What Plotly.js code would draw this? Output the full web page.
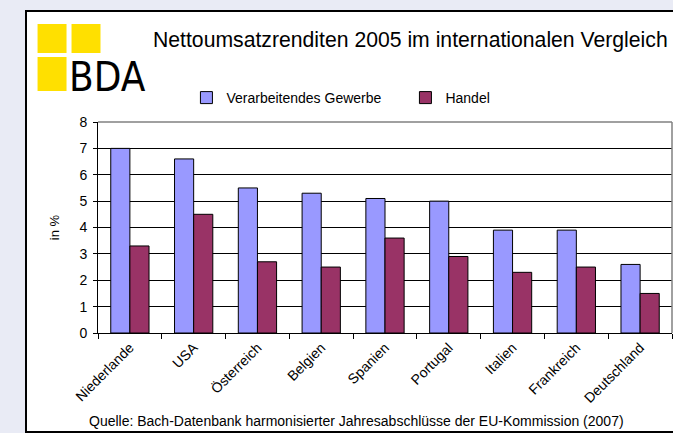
<!DOCTYPE html>
<html>
<head>
<meta charset="utf-8">
<script src="https://cdn.plot.ly/plotly-3.0.1.min.js"></script>
<style>
  html, body { margin: 0; padding: 0; background: #e9ebf5; overflow: hidden; }
  #box { position: absolute; left: 25px; top: 10px; width: 700px; height: 419px;
         border: 2px solid #000; background: #fff; }
  #chart { position: absolute; left: 0; top: 0; width: 660px; height: 419px; }
</style>
</head>
<body>
<div id="box"><div id="chart"></div></div>
<script>
// ---- data ----
const countries = ["Niederlande", "USA", "Österreich", "Belgien", "Spanien",
                   "Portugal", "Italien", "Frankreich", "Deutschland"];
const verarbeitendesGewerbe = [7.0, 6.6, 5.5, 5.3, 5.1, 5.0, 3.9, 3.9, 2.6];
const handel = [3.3, 4.5, 2.7, 2.5, 3.6, 2.9, 2.3, 2.5, 1.5];
const seriesNames = ["Verarbeitendes Gewerbe", "Handel"];
const yTicks = [0, 1, 2, 3, 4, 5, 6, 7, 8];

// ---- geometry helpers (page px -> paper coords) ----
const OFFX = 27, OFFY = 12;
const M = { l: 70.5, r: 15, t: 110, b: 98 };
const W = 660, H = 419;
const PW = W - M.l - M.r, PH = H - M.t - M.b;
const px = X => (X - OFFX - M.l) / PW;
const py = Y => (H - M.b - (Y - OFFY)) / PH;

const font = "Liberation Sans, Arial, sans-serif";

const traces = [
  { type: "bar", name: seriesNames[0], x: countries, y: verarbeitendesGewerbe,
    marker: { color: "#9999ff", line: { color: "#000", width: 1 } } },
  { type: "bar", name: seriesNames[1], x: countries, y: handel,
    marker: { color: "#993366", line: { color: "#000", width: 1 } } }
];

const yellow = "#ffe000";
const sq = (x0, y0, x1, y1) => ({ type: "rect", xref: "paper", yref: "paper",
  x0: px(x0), x1: px(x1), y0: py(y1), y1: py(y0),
  fillcolor: yellow, line: { width: 0 } });

const layout = {
  width: W, height: H,
  margin: M,
  paper_bgcolor: "#fff", plot_bgcolor: "#fff",
  font: { family: font, size: 13, color: "#000" },
  title: { text: "Nettoumsatzrenditen 2005 im internationalen Vergleich",
           font: { family: font, size: 21.2, color: "#000" },
           xref: "container", yref: "container",
           x: (153 - OFFX) / W, xanchor: "left",
           y: 1 - (40 - OFFY) / H, yanchor: "middle" },
  barmode: "group", bargap: 0.40, bargroupgap: 0,
  xaxis: { type: "category", showline: true, linecolor: "#000", linewidth: 1,
           ticks: "outside", tickson: "boundaries", ticklen: 5, tickcolor: "#000",
           tickangle: -45, tickfont: { size: 14 }, showgrid: false, fixedrange: true },
  yaxis: { range: [0, 8], tickvals: yTicks, showline: true, linecolor: "#000", linewidth: 1,
           ticks: "outside", ticklen: 4, tickcolor: "#000", ticklabelstandoff: 3,
           showgrid: true, gridcolor: "#000", gridwidth: 1, zeroline: false,
           tickfont: { size: 14 },
           title: { text: "in %", font: { size: 13 }, standoff: 16 } },
  showlegend: true,
  legend: { orientation: "h", x: px(186), xanchor: "left", y: py(98), yanchor: "middle",
            entrywidth: 174, entrywidthmode: "pixels",
            font: { family: font, size: 14 }, bgcolor: "rgba(0,0,0,0)" },
  shapes: [
    sq(37, 24, 66, 53), sq(71, 24, 100, 53), sq(37, 57, 66, 91),
    { type: "line", xref: "paper", yref: "paper", x0: 0, x1: 1, y0: 1, y1: 1,
      line: { color: "#808080", width: 1.5 }, layer: "above" },
    { type: "line", xref: "paper", yref: "paper", x0: 1, x1: 1, y0: 0, y1: 1,
      line: { color: "#808080", width: 1.5 }, layer: "above" }
  ],
  annotations: [
    { text: "BDA", xref: "paper", yref: "paper", x: px(66), y: py(93),
      xanchor: "left", yanchor: "bottom", showarrow: false, yshift: -9,
      font: { family: "Liberation Sans Narrow, Arial Narrow, DejaVu Sans Condensed, Liberation Sans", size: 40, color: "#000" } },
    { text: "Quelle: Bach-Datenbank harmonisierter Jahresabschlüsse der EU-Kommission (2007)",
      xref: "paper", yref: "paper", x: px(356), y: py(421), xanchor: "center", yanchor: "middle",
      showarrow: false, font: { family: font, size: 14, color: "#000" } }
  ]
};

Plotly.newPlot("chart", traces, layout, { displayModeBar: false, staticPlot: true });
</script>
</body>
</html>
